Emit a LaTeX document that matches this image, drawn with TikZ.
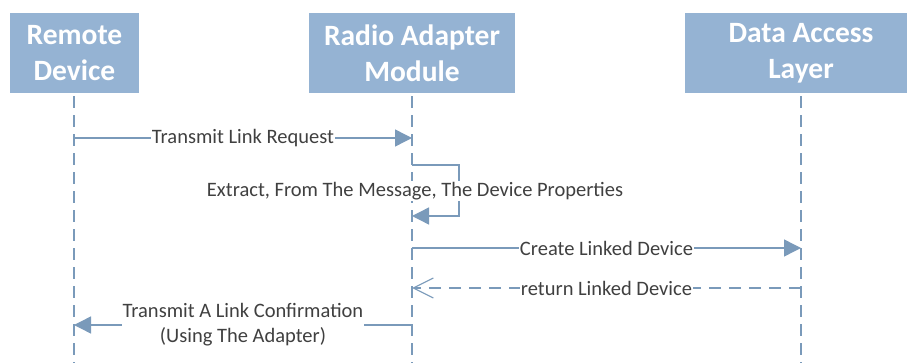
\documentclass[tikz,border=0pt]{standalone}
\usepackage{fontspec}
\setmainfont{Carlito}
\usetikzlibrary{arrows.meta}
\definecolor{boxfill}{RGB}{149,179,211}
\definecolor{lineblue}{RGB}{122,154,186}
\definecolor{txt}{RGB}{64,64,64}
\begin{document}
\begin{tikzpicture}[x=1pt,y=-1pt,
  actor/.style={fill=boxfill, draw=none, text=white, minimum height=80pt,
    font=\fontsize{29.5}{36}\selectfont\bfseries, align=center, inner sep=0pt},
  life/.style={draw=lineblue, line width=1.6pt, dash pattern=on 12pt off 7pt},
  msg/.style={draw=lineblue, line width=1.4pt, -{Triangle[length=17pt,width=17pt]}},
  ret/.style={draw=lineblue, line width=1.4pt, dash pattern=on 12pt off 8pt,
    -{Straight Barb[length=20pt,width=20pt,line width=1.2pt]}},
  lbl/.style={fill=white, text=txt, font=\fontsize{20.5}{25}\selectfont,
    inner sep=1pt, align=center}]
\useasboundingbox (0,0) rectangle (907,363);
\clip (0,0) rectangle (907,363);

% participants
\node[actor, minimum width=129pt] (rd)  at (74.5,53) {Remote\\Device};
\node[actor, minimum width=206pt] (ram) at (412,53)  {Radio Adapter\\Module};
\node[actor, minimum width=232pt] (dal) at (801,53)  {Data Access\\Layer};

% lifeline ends
\coordinate (rdEnd)  at (74,363);
\coordinate (ramEnd) at (412,363);
\coordinate (dalEnd) at (801,363);
\draw[life] ([yshift=-3pt]rd.south -| rdEnd) -- (rdEnd);
\draw[life] ([yshift=-3pt]ram.south -| ramEnd) -- (ramEnd);
\draw[life] ([yshift=-3pt]dal.south -| dalEnd) -- (dalEnd);

% message anchor points on the lifelines
\coordinate (m1a) at (74,138);   \coordinate (m1b) at (412,138);
\coordinate (s1)  at (412,165);  \coordinate (s2)  at (412,216);
\coordinate (m3a) at (412,248);  \coordinate (m3b) at (801,248);
\coordinate (m4a) at (801,288);  \coordinate (m4b) at (412,288);
\coordinate (m5a) at (412,325);  \coordinate (m5b) at (74,325);

% messages
\draw[msg] (m1a) -- node[lbl] (l1) {Transmit Link Request} (m1b);
\draw[msg] (s1) -- ++(47,0) |- (s2);
\node[lbl] (l2) at (415,191) {Extract, From The Message, The Device Properties};
\draw[msg] (m3a) -- node[lbl] (l3) {Create Linked Device} (m3b);
\draw[ret] (m4a) -- node[lbl] (l4) {return Linked Device} (m4b);
\draw[msg] (m5a) -- node[lbl] (l5) {Transmit A Link Confirmation\\(Using The Adapter)} (m5b);
\end{tikzpicture}
\end{document}
